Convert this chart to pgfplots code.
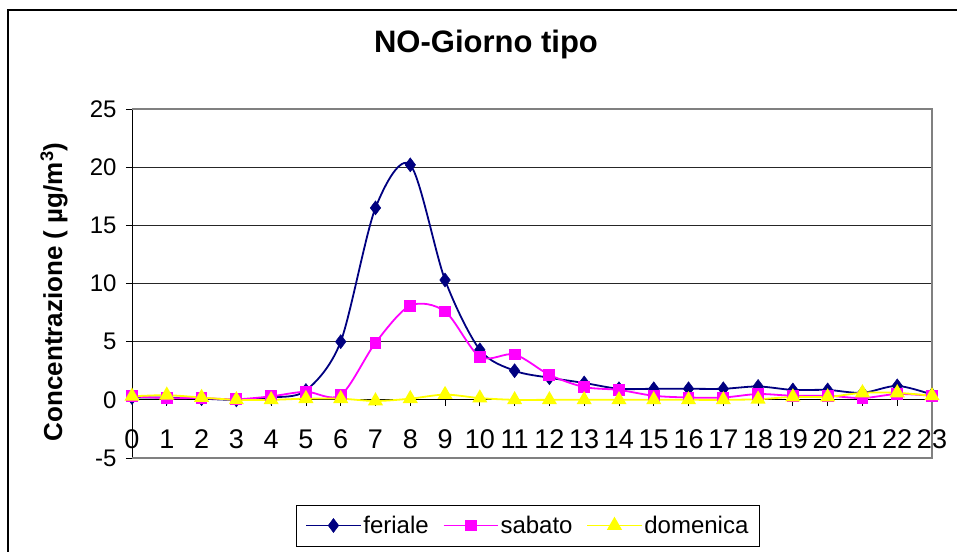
\documentclass[border=0pt]{standalone}
\usepackage{fontspec}
\setmainfont{Liberation Sans}
\usepackage{pgfplots}
\pgfplotsset{compat=1.18}
\definecolor{fer}{RGB}{0,0,128}
\definecolor{sab}{RGB}{255,0,255}
\definecolor{dom}{RGB}{255,255,0}
\begin{document}
\begin{tikzpicture}
\useasboundingbox (0,0) rectangle (957pt,551pt);
\draw[line width=2.4pt] (8pt,-20pt) rectangle (975pt,541pt);
\begin{axis}[
  at={(132pt,93pt)}, anchor=south west,
  width=800pt, height=349pt, scale only axis,
  xmin=0, xmax=23, ymin=-5, ymax=25,
  axis x line=middle, axis y line=left,
  axis line style={-, black, line width=1pt},
  xtick={0,1,...,23}, ytick={-5,0,...,25},
  ymajorgrids, major grid style={black!85, line width=1pt},
  tick align=outside,
  major tick length=6pt,
  tick style={black, line width=0.8pt},
  /pgf/number format/assume math mode=true,
  xticklabel style={font=\fontsize{27}{30}\selectfont, yshift=-24pt, inner sep=0pt},
  yticklabel style={font=\fontsize{24}{28}\selectfont, xshift=-6pt},
  title={NO-Giorno tipo},
  title style={font=\fontsize{31}{36}\selectfont\bfseries, at={(axis description cs:0.4425,1.169)}, anchor=center},
  ylabel={Concentrazione ( µg/m\textsuperscript{3})},
  ylabel style={font=\fontsize{26}{30}\selectfont\bfseries, at={(axis description cs:-0.0975,0.4756)}, anchor=center},
  legend columns=3,
  legend style={at={(axis description cs:0.495,-0.1934)}, anchor=center, draw=black, line width=0.8pt,
    font=\fontsize{24}{28}\selectfont, inner xsep=9pt, inner ysep=9pt,
    /tikz/every even column/.append style={column sep=12pt}},
  legend image code/.code={\draw[mark repeat=2,mark phase=2,#1] plot coordinates {(0pt,0pt) (27pt,0pt) (54pt,0pt)};},
  clip=false,
]
\draw[gray, line width=1.4pt] (rel axis cs:0,0) -- (rel axis cs:1,0) -- (rel axis cs:1,1) -- (rel axis cs:0,1);
\node[font=\fontsize{27}{30}\selectfont, anchor=north, inner sep=0pt, yshift=-30pt] at (axis cs:0,0) {0};
\addplot[fer, line width=1.8pt, smooth, tension=0.5, mark=diamond*, mark size=7pt, mark options={solid, fill=fer, line width=0.5pt}] coordinates {
(0,0.2) (1,0.2) (2,0.1) (3,0.0) (4,0.2) (5,0.8) (6,5.0) (7,16.5) (8,20.2) (9,10.3) (10,4.3) (11,2.5)
(12,1.9) (13,1.45) (14,0.95) (15,0.95) (16,0.95) (17,0.95) (18,1.15) (19,0.85) (20,0.85) (21,0.6) (22,1.2) (23,0.45)};
\addlegendentry{feriale}
\addplot[sab, line width=1.8pt, smooth, tension=0.5, mark=square*, mark size=5pt, mark options={solid, fill=sab}] coordinates {
(0,0.3) (1,0.15) (2,0.15) (3,0.05) (4,0.3) (5,0.7) (6,0.4) (7,4.9) (8,8.1) (9,7.6) (10,3.7) (11,3.9)
(12,2.15) (13,1.1) (14,0.85) (15,0.35) (16,0.2) (17,0.2) (18,0.5) (19,0.35) (20,0.35) (21,0.15) (22,0.5) (23,0.35)};
\addlegendentry{sabato}
\addplot[dom, line width=1.8pt, smooth, tension=0.5, mark=triangle*, mark size=7pt, mark options={solid, fill=dom}] coordinates {
(0,0.3) (1,0.4) (2,0.2) (3,0.0) (4,0.0) (5,0.1) (6,0.1) (7,-0.1) (8,0.1) (9,0.45) (10,0.15) (11,0.0)
(12,0.0) (13,0.0) (14,0.0) (15,0.0) (16,0.0) (17,0.0) (18,0.05) (19,0.25) (20,0.25) (21,0.6) (22,0.6) (23,0.35)};
\addlegendentry{domenica}
\end{axis}
\end{tikzpicture}
\end{document}
